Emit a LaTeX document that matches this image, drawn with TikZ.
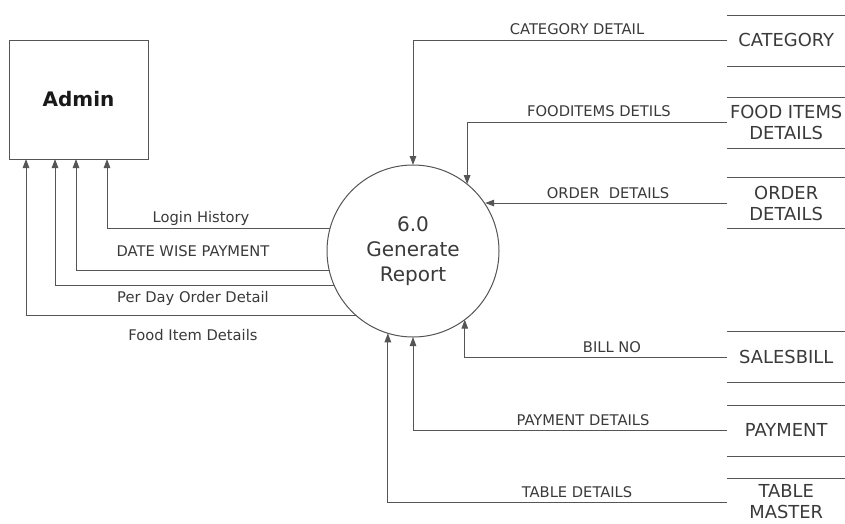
\documentclass[tikz,border=0pt]{standalone}
\usepackage{fontspec}
\setmainfont{DejaVu Sans}
\usetikzlibrary{arrows.meta}
\definecolor{ln}{HTML}{555555}
\definecolor{tx}{HTML}{3A3A3A}
\begin{document}
\begin{tikzpicture}[x=1pt,y=-1pt,
  flow/.style={draw=ln,line width=1pt,-{Triangle[length=9pt,width=6.5pt]}},
  lab/.style={text=tx,inner sep=0pt,font=\fontsize{14.7}{17}\selectfont},
  store/.style={text=tx,inner sep=0pt,minimum width=118pt,align=center,font=\fontsize{17.9}{21}\selectfont},
  storeline/.style={draw=ln,line width=1pt}]
\useasboundingbox[fill=white] (0,0) rectangle (845,523);

% Admin entity
\node[draw=ln,line width=1pt,minimum width=139pt,minimum height=119pt,outer sep=0pt,
  text=black!90,font=\fontsize{20}{23}\bfseries\selectfont] (admin) at (78.5,99.5) {Admin};

% Process
\node[circle,draw=ln,line width=1pt,minimum size=172pt,inner sep=0pt,outer sep=0pt,
  text=tx,align=center,font=\fontsize{20}{25}\selectfont] (p) at (413,251) {6.0\\Generate\\Report};

% Data stores
\node[store,anchor=west] (cat) at (727,40) {CATEGORY};
\node[store,anchor=west] (food) at (727,122) {FOOD ITEMS\\DETAILS};
\node[store,anchor=west] (ord) at (727,203) {ORDER\\DETAILS};
\node[store,anchor=west] (sale) at (727,357) {SALESBILL};
\node[store,anchor=west] (pay) at (727,430) {PAYMENT};
\node[store,anchor=west] (tab) at (727,502) {TABLE\\MASTER};

\draw[storeline] (727,15) -- (845,15) (727,66) -- (845,66);
\draw[storeline] (727,97) -- (845,97) (727,148) -- (845,148);
\draw[storeline] (727,177) -- (845,177) (727,228) -- (845,228);
\draw[storeline] (727,331) -- (845,331) (727,382) -- (845,382);
\draw[storeline] (727,405) -- (845,405) (727,456) -- (845,456);
\draw[storeline] (727,478) -- (845,478);

% Flows from stores to process
\draw[flow] (cat.west) -| (p.north);
\draw[flow] (food.west) -| (p.51.1);
\draw[flow] (ord.west) -- (ord.west -| p.33.1);
\draw[flow] (sale.west) -| (p.-53.6);
\draw[flow] (pay.west) -| (p.south);
\draw[flow] (tab.west) -| (p.253.8);

% Flows from process to Admin
\draw[flow] (p.165.2) -| ([xshift=98pt]admin.south west);
\draw[flow] (p.193.4) -| ([xshift=67pt]admin.south west);
\draw[flow] (p.204.0) -| ([xshift=46pt]admin.south west);
\draw[flow] (p.229.1) -| ([xshift=17pt]admin.south west);

% Labels
\node[lab] (l1) at (201,218) {Login History};
\node[lab] (l2) at (193,251) {DATE WISE PAYMENT};
\node[lab] (l3) at (193,298) {Per Day Order Detail};
\node[lab] (l4) at (193,335) {Food Item Details};
\node[lab] (l5) at (577,29) {CATEGORY DETAIL};
\node[lab] (l6) at (599,111) {FOODITEMS DETILS};
\node[lab] (l7) at (608,193) {ORDER\ \ DETAILS};
\node[lab] (l8) at (612,347) {BILL NO};
\node[lab] (l9) at (583,420) {PAYMENT DETAILS};
\node[lab] (l10) at (577,492) {TABLE DETAILS};
\end{tikzpicture}
\end{document}
